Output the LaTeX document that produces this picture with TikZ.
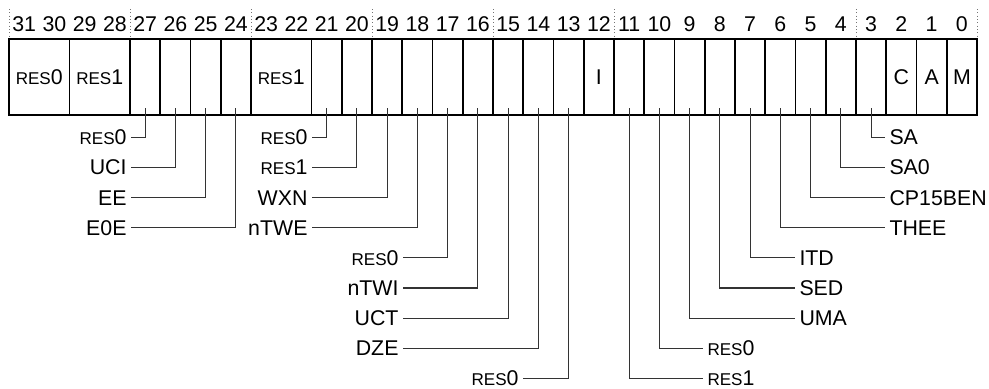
\documentclass[tikz,border=0pt]{standalone}
\usepackage{fontspec}
\setmainfont{Liberation Sans}
\newcommand{\resbit}[1]{{\fontsize{12.8}{14}\selectfont RES}#1}
\tikzset{every picture/.style={line width=0.75pt}}

\begin{document}
\begin{tikzpicture}[x=0.75pt,y=0.75pt,yscale=-1,xscale=1,
  cell/.style={draw, line width=1.3pt, minimum height=57pt, minimum width=22.69pt, inner sep=0pt, font=\fontsize{16}{18}\selectfont},
  dcell/.style={cell, minimum width=45.38pt},
  bitno/.style={inner sep=0pt, font=\fontsize{16}{18}\selectfont},
  lbl/.style={inner xsep=3pt, inner ysep=0pt, font=\fontsize{16}{18}\selectfont},
  lead/.style={draw=black!80, line width=0.8pt},
  guide/.style={draw=black!55, dotted, line width=0.5pt}]
%set diagram left start at 0, and has height of 389
\useasboundingbox (0,0) rectangle (989,389);

%Bit numbers
\foreach \b in {31,...,0}
  \node[bitno] (n\b) at ({9+(31.5-\b)*30.25},24) {\b};
%Dotted guides
\foreach \k in {0,4,8,12,16,20,28,32}
  \draw[guide] ({9+\k*30.25},9) -- ({9+\k*30.25},39);

%Shape: Rectangle (fields)
\node[dcell] (f31) at (39.25,77) {\resbit0};
\node[dcell] (f29) at (99.75,77) {\resbit1};
\node[dcell] (f23) at (281.25,77) {\resbit1};
\foreach \b in {27,26,25,24,21,20,19,18,17,16,15,14,13,11,10,9,8,7,6,5,4,3}
  \node[cell] (f\b) at ({9+(31.5-\b)*30.25},77) {};
\foreach \b/\t in {12/I,2/C,1/A,0/M}
  \node[cell] (f\b) at ({9+(31.5-\b)*30.25},77) {\t};

% Text Node (left labels)
\node[lbl, anchor=east] (l27) at (131,137.5) {\resbit0};
\node[lbl, anchor=east] (l26) at (131,167.6) {UCI};
\node[lbl, anchor=east] (l25) at (131,197.7) {EE};
\node[lbl, anchor=east] (l24) at (131,227.8) {E0E};
\node[lbl, anchor=east] (l21) at (312,137.5) {\resbit0};
\node[lbl, anchor=east] (l20) at (312,167.6) {\resbit1};
\node[lbl, anchor=east] (l19) at (312,197.7) {WXN};
\node[lbl, anchor=east] (l18) at (312,227.8) {nTWE};
\node[lbl, anchor=east] (l17) at (403,257.9) {\resbit0};
\node[lbl, anchor=east] (l16) at (403,288) {nTWI};
\node[lbl, anchor=east] (l15) at (403,318.1) {UCT};
\node[lbl, anchor=east] (l14) at (403,348.2) {DZE};
\node[lbl, anchor=east] (l13) at (523,378.3) {\resbit0};
% Text Node (right labels)
\node[lbl, anchor=west] (l11) at (703,378.3) {\resbit1};
\node[lbl, anchor=west] (l10) at (703,348.2) {\resbit0};
\node[lbl, anchor=west] (l9) at (795,318.1) {UMA};
\node[lbl, anchor=west] (l8) at (795,288) {SED};
\node[lbl, anchor=west] (l7) at (795,257.9) {ITD};
\node[lbl, anchor=west] (l6) at (885,227.8) {THEE};
\node[lbl, anchor=west] (l5) at (885,197.7) {CP15BEN};
\node[lbl, anchor=west] (l4) at (885,167.6) {SA0};
\node[lbl, anchor=west] (l3) at (885,137.5) {SA};

%Straight Lines (leaders)
\foreach \b in {27,26,25,24,21,20,19,18,17,16,15,14,13}
  \draw[lead] ([yshift=-5.8pt]f\b.south) |- (l\b.east);
\foreach \b in {11,10,9,8,7,6,5,4,3}
  \draw[lead] ([yshift=-5.8pt]f\b.south) |- (l\b.west);

\end{tikzpicture}
\end{document}
